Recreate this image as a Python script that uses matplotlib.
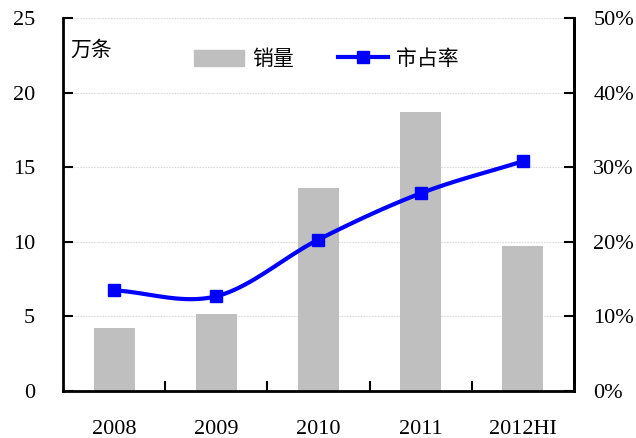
import numpy as np
import matplotlib.pyplot as plt
from matplotlib.patches import Patch
from matplotlib.lines import Line2D

# 数据
years = ['2008', '2009', '2010', '2011', '2012HI']
sales = [4.22, 5.16, 13.6, 18.7, 9.72]          # 万条
share = [13.5, 12.7, 20.3, 26.5, 30.8]          # %

serif = ['Liberation Serif', 'DejaVu Serif']
cjk = ['Noto Sans CJK SC', 'DejaVu Sans']


def catmull_rom(xs, ys, n=30):
    # 平滑曲线 (类似 Excel 的平滑线)
    px = np.r_[2 * xs[0] - xs[1], xs, 2 * xs[-1] - xs[-2]]
    py = np.r_[2 * ys[0] - ys[1], ys, 2 * ys[-1] - ys[-2]]
    ox, oy = [], []
    t = np.linspace(0, 1, n)
    for i in range(1, len(px) - 2):
        for p, o in ((px, ox), (py, oy)):
            p0, p1, p2, p3 = p[i - 1], p[i], p[i + 1], p[i + 2]
            o.extend(0.5 * (2 * p1 + (-p0 + p2) * t
                            + (2 * p0 - 5 * p1 + 4 * p2 - p3) * t ** 2
                            + (-p0 + 3 * p1 - 3 * p2 + p3) * t ** 3))
    return np.array(ox), np.array(oy)


fig = plt.figure(figsize=(6.36, 4.38), dpi=100)
ax = fig.add_axes([0.099, 0.1073, 0.8035, 0.8516])
x = np.arange(len(years))

ax.bar(x, sales, width=0.4, color='#bfbfbf', zorder=2)
ax.set_xlim(-0.5, len(years) - 0.5)
ax.set_ylim(0, 25)
ax.set_yticks(range(0, 26, 5))
ax.yaxis.grid(True, color='#dadada', linestyle=(0, (1.5, 1)), linewidth=0.8, zorder=0)
ax.set_axisbelow(True)

ax.set_xticks(x)
ax.set_xticklabels(years)
ax.set_xticks(np.arange(0.5, len(years) - 0.5), minor=True)
ax.tick_params(axis='x', which='major', length=0, pad=21)
ax.tick_params(axis='x', which='minor', direction='in', length=7, width=1.5)
ax.tick_params(axis='y', direction='in', length=7, width=1.5, pad=20)
for lab in ax.get_xticklabels() + ax.get_yticklabels():
    lab.set_family(serif)
    lab.set_fontsize(16)

ax2 = ax.twinx()
ax2.set_ylim(0, 50)
ax2.set_yticks(range(0, 51, 10))
ax2.set_yticklabels([f'{v}%' for v in range(0, 51, 10)], family=serif, fontsize=16)
ax2.tick_params(axis='y', direction='in', length=7, width=1.5, pad=14)

sx, sy = catmull_rom(x.astype(float), np.array(share, dtype=float))
ax2.plot(sx, sy, color='#0000ff', linewidth=3, zorder=3)
ax2.plot(x, share, linestyle='none', marker='s', markersize=9, color='#0000ff', zorder=4)

for a in (ax, ax2):
    a.spines['top'].set_visible(False)
    for s in ('left', 'right', 'bottom'):
        a.spines[s].set_linewidth(2)
ax2.spines['left'].set_visible(False)
ax2.spines['bottom'].set_visible(False)

ax.text(0.014, 0.915, '万条', transform=ax.transAxes, family=cjk, fontsize=15,
        va='center', ha='left')

handles = [Patch(color='#bfbfbf'),
           Line2D([], [], color='#0000ff', linewidth=3, marker='s', markersize=9)]
ax2.legend(handles, ['销量', '市占率'], ncol=2, frameon=False,
           loc='center', bbox_to_anchor=(0.515, 0.89),
           prop={'family': cjk, 'size': 15}, handlelength=2.4, handleheight=0.8,
           columnspacing=2.1, handletextpad=0.4)

fig.savefig('out.png', dpi=100)
